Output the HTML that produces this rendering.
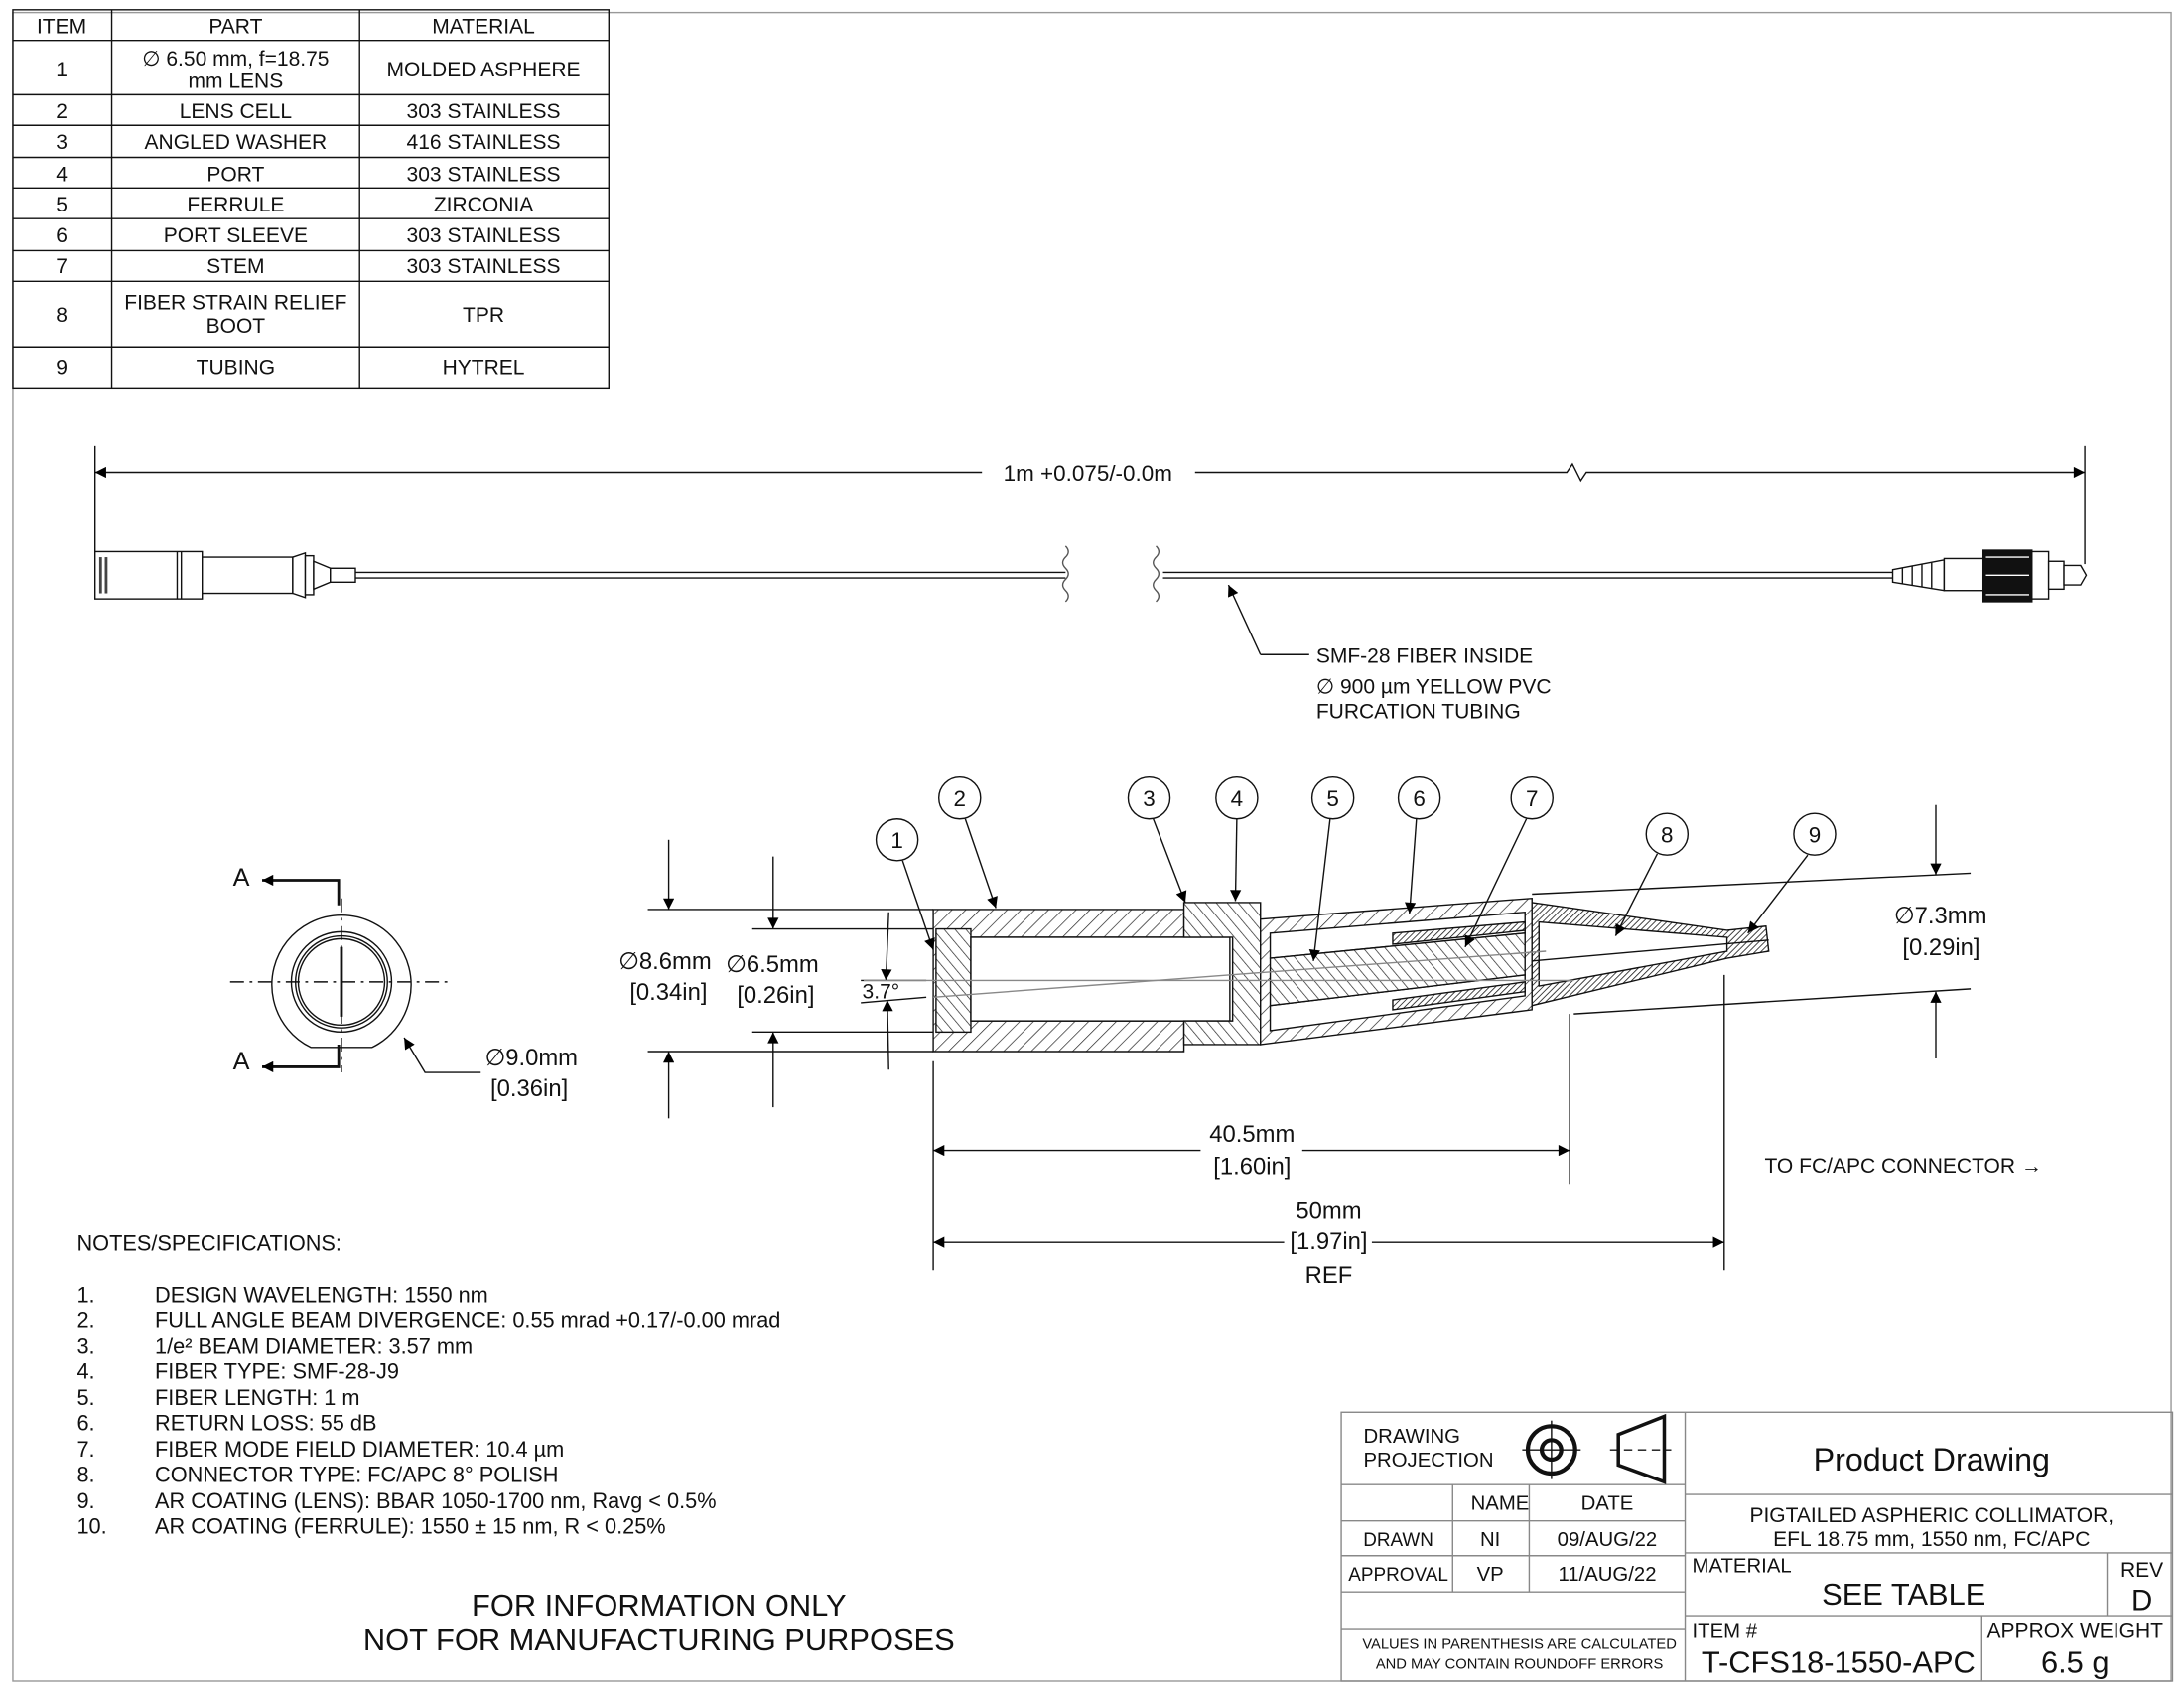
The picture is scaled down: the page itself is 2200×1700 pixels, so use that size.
<!DOCTYPE html>
<html><head><meta charset="utf-8"><style>
html,body{margin:0;padding:0;background:#fff;}
svg{display:block;}
text{font-family:"Liberation Sans",sans-serif;fill:#111;}
</style></head><body>
<svg width="2200" height="1700" viewBox="0 0 1568 1212" xmlns="http://www.w3.org/2000/svg">
<defs>
<pattern id="h" width="7" height="7" patternUnits="userSpaceOnUse" patternTransform="rotate(45)"><rect width="7" height="7" fill="#fff"/><line x1="0" y1="0" x2="0" y2="7" stroke="#222" stroke-width="1"/></pattern>
<pattern id="h2" width="6" height="6" patternUnits="userSpaceOnUse" patternTransform="rotate(-40)"><rect width="6" height="6" fill="#fff"/><line x1="0" y1="0" x2="0" y2="6" stroke="#222" stroke-width="1"/></pattern>
<pattern id="hd" width="3" height="3" patternUnits="userSpaceOnUse" patternTransform="rotate(45)"><rect width="3" height="3" fill="#fff"/><line x1="0" y1="0" x2="0" y2="3" stroke="#222" stroke-width="1.2"/></pattern>
<marker id="al" viewBox="0 0 10 10" refX="10" refY="5" markerWidth="22" markerHeight="8" orient="auto-start-reverse" markerUnits="userSpaceOnUse"><path d="M0,0 L10,5 L0,10 Z" fill="#000"/></marker>
</defs>

<rect x="9" y="9" width="1550" height="1198" fill="none" stroke="#999" stroke-width="1"/>

<g stroke="#111" stroke-width="1" fill="none">
<rect x="9" y="7" width="428" height="272"/>
<line x1="80" y1="7" x2="80" y2="279"/><line x1="258" y1="7" x2="258" y2="279"/>
<line x1="9" y1="29" x2="437" y2="29"/><line x1="9" y1="68" x2="437" y2="68"/><line x1="9" y1="90" x2="437" y2="90"/><line x1="9" y1="113" x2="437" y2="113"/><line x1="9" y1="135" x2="437" y2="135"/><line x1="9" y1="157" x2="437" y2="157"/><line x1="9" y1="180" x2="437" y2="180"/><line x1="9" y1="202" x2="437" y2="202"/><line x1="9" y1="249" x2="437" y2="249"/>
</g>
<g font-size="15" text-anchor="middle">
<text x="44" y="24">ITEM</text><text x="169" y="24">PART</text><text x="347" y="24">MATERIAL</text>
<text x="44" y="55">1</text><text x="169" y="47">∅ 6.50 mm, f=18.75</text><text x="169" y="63">mm LENS</text><text x="347" y="55">MOLDED ASPHERE</text>
<text x="44" y="85">2</text><text x="169" y="85">LENS CELL</text><text x="347" y="85">303 STAINLESS</text>
<text x="44" y="107">3</text><text x="169" y="107">ANGLED WASHER</text><text x="347" y="107">416 STAINLESS</text>
<text x="44" y="130">4</text><text x="169" y="130">PORT</text><text x="347" y="130">303 STAINLESS</text>
<text x="44" y="152">5</text><text x="169" y="152">FERRULE</text><text x="347" y="152">ZIRCONIA</text>
<text x="44" y="174">6</text><text x="169" y="174">PORT SLEEVE</text><text x="347" y="174">303 STAINLESS</text>
<text x="44" y="196">7</text><text x="169" y="196">STEM</text><text x="347" y="196">303 STAINLESS</text>
<text x="44" y="231">8</text><text x="169" y="222">FIBER STRAIN RELIEF</text><text x="169" y="239">BOOT</text><text x="347" y="231">TPR</text>
<text x="44" y="269">9</text><text x="169" y="269">TUBING</text><text x="347" y="269">HYTREL</text>
</g>

<g stroke="#111" stroke-width="1" fill="none">
<line x1="68" y1="320" x2="68" y2="400"/><line x1="1497" y1="320" x2="1497" y2="405"/>
<line x1="68" y1="339" x2="705" y2="339" marker-start="url(#al)"/>
<polyline points="858,339 1125,339 1129,333 1135,345 1139,339 1497,339" marker-end="url(#al)"/>
</g>
<text x="781" y="345" font-size="16" text-anchor="middle">1m +0.075/-0.0m</text>

<g stroke="#111" stroke-width="1" fill="#fff">
<rect x="68" y="396" width="77" height="34"/>
<line x1="127" y1="396" x2="127" y2="430"/><line x1="130" y1="396" x2="130" y2="430"/>
<rect x="145" y="400" width="65" height="26"/>
<polygon points="210,400 219,397 219,429 210,426"/>
<rect x="219" y="399" width="6" height="28"/>
<polygon points="225,403 237,408 237,418 225,423"/>
<rect x="237" y="408" width="18" height="10"/>
<line x1="255" y1="411" x2="765" y2="411"/><line x1="255" y1="415" x2="765" y2="415"/>
<line x1="835" y1="411" x2="1360" y2="411"/><line x1="835" y1="415" x2="1360" y2="415"/>
<polygon points="1359,409 1396,402 1396,424 1359,418"/>
<line x1="1366" y1="408" x2="1366" y2="419"/><line x1="1373" y1="406" x2="1373" y2="420"/><line x1="1380" y1="405" x2="1380" y2="421"/><line x1="1387" y1="404" x2="1387" y2="422"/>
<rect x="1396" y="401" width="28" height="23"/>
<rect x="1424" y="395" width="35" height="37" fill="#111"/>
<line x1="1426" y1="400" x2="1457" y2="400" stroke="#fff"/><line x1="1426" y1="427" x2="1457" y2="427" stroke="#fff"/><line x1="1426" y1="413" x2="1457" y2="413" stroke="#fff"/>
<rect x="1459" y="396" width="12" height="34"/>
<rect x="1471" y="403" width="11" height="20"/>
<path d="M1482,406 L1494,406 L1498,413 L1494,420 L1482,420 Z"/>
</g>
<rect x="71" y="400" width="2" height="26" fill="#444"/><rect x="75" y="400" width="2" height="26" fill="#444"/>
<g fill="none" stroke="#555" stroke-width="1">
<path d="M765,392 q4,4 0,8 q-4,4 0,8 q4,4 0,8 q-4,4 0,8 q4,4 0,8"/>
<path d="M830,392 q4,4 0,8 q-4,4 0,8 q4,4 0,8 q-4,4 0,8 q4,4 0,8"/>
</g>
<g stroke="#111" stroke-width="1" fill="none">
<polyline points="905,470 940,470" /><line x1="905" y1="470" x2="882" y2="420" marker-end="url(#al)"/>
</g>
<g font-size="15"><text x="945" y="476">SMF-28 FIBER INSIDE</text><text x="945" y="498">∅ 900 µm YELLOW PVC</text><text x="945" y="516">FURCATION TUBING</text></g>

<g stroke="#111" stroke-width="1" fill="none">
<path d="M223,752 A50,50 0 1 1 267,752 Z"/>
<circle cx="245" cy="705" r="36"/><circle cx="245" cy="705" r="33"/><circle cx="245" cy="705" r="31"/>
<line x1="165" y1="705" x2="325" y2="705" stroke-dasharray="10,4,2,4"/>
<line x1="245" y1="645" x2="245" y2="770" stroke-dasharray="10,4,2,4"/>
<line x1="245" y1="680" x2="245" y2="730" stroke-width="2"/>
<polyline points="243,650 243,632 188,632" stroke-width="2" marker-end="url(#al)"/>
<polyline points="243,750 243,766 188,766" stroke-width="2" marker-end="url(#al)"/>
<polyline points="345,770 305,770 290,745" marker-end="url(#al)"/>
</g>
<g font-size="18"><text x="167" y="636">A</text><text x="167" y="768">A</text></g>
<text x="348" y="765" font-size="17">∅9.0mm</text><text x="352" y="787" font-size="17">[0.36in]</text>

<g stroke="#111" stroke-width="1" fill="none">
<line x1="465" y1="653" x2="670" y2="653"/><line x1="465" y1="755" x2="670" y2="755"/>
<line x1="540" y1="667" x2="670" y2="667"/><line x1="540" y1="741" x2="670" y2="741"/>
<line x1="480" y1="603" x2="480" y2="653" marker-end="url(#al)"/>
<line x1="480" y1="803" x2="480" y2="755" marker-end="url(#al)"/>
<line x1="555" y1="615" x2="555" y2="667" marker-end="url(#al)"/>
<line x1="555" y1="795" x2="555" y2="741" marker-end="url(#al)"/>
<line x1="618" y1="720" x2="665" y2="716"/>
<line x1="618" y1="704" x2="665" y2="704"/>
<line x1="638" y1="655" x2="636" y2="704" marker-end="url(#al)"/>
<line x1="638" y1="768" x2="637" y2="718" marker-end="url(#al)"/>
</g>
<text x="444" y="696" font-size="17">∅8.6mm</text><text x="452" y="718" font-size="17">[0.34in]</text>
<text x="521" y="698" font-size="17">∅6.5mm</text><text x="529" y="720" font-size="17">[0.26in]</text>
<text x="619" y="717" font-size="15">3.7°</text>

<g stroke="#111" stroke-width="1">
<path d="M670,653 H850 V673 H697 V733 H850 V755 H670 Z" fill="url(#h)"/>
<rect x="672" y="667" width="25" height="74" fill="url(#h2)"/>
<rect x="697" y="673" width="186" height="60" fill="#fff"/>
<path d="M850,648 H905 V750 H850 V733 H885 V673 H850 Z" fill="url(#h2)"/>
<path d="M905,660 L1100,645 L1100,725 L905,750 Z" fill="url(#h)"/>
<path d="M912,670 L1095,655 L1095,670 L912,688 Z" fill="#fff"/>
<path d="M912,722 L1095,700 L1095,715 L912,740 Z" fill="#fff"/>
<path d="M912,688 L1095,670 L1095,700 L912,722 Z" fill="url(#h2)"/>
<path d="M1000,670 L1095,662 L1095,668 L1000,678 Z" fill="url(#hd)"/>
<path d="M1000,718 L1095,705 L1095,712 L1000,725 Z" fill="url(#hd)"/>
<path d="M1100,648 L1240,668 L1268,665 L1270,683 L1240,688 L1100,722 Z" fill="url(#hd)"/>
<path d="M1105,662 L1240,673 L1240,683 L1105,708 Z" fill="#fff"/>
<line x1="1100" y1="690" x2="1270" y2="675"/>
</g>
<g stroke="#888" stroke-width="1">
<line x1="620" y1="704" x2="1130" y2="704"/>
<line x1="670" y1="716" x2="1110" y2="683"/>
</g>
<g stroke="#111" stroke-width="1" fill="none">
<line x1="1100" y1="642" x2="1415" y2="627"/>
<line x1="1130" y1="728" x2="1415" y2="710"/>
<line x1="1390" y1="578" x2="1390" y2="628" marker-end="url(#al)"/>
<line x1="1390" y1="760" x2="1390" y2="712" marker-end="url(#al)"/>
<line x1="670" y1="762" x2="670" y2="912"/><line x1="1127" y1="728" x2="1127" y2="850"/><line x1="1238" y1="700" x2="1238" y2="912"/>
<line x1="670" y1="826" x2="862" y2="826" marker-start="url(#al)"/><line x1="935" y1="826" x2="1127" y2="826" marker-end="url(#al)"/>
<line x1="670" y1="892" x2="922" y2="892" marker-start="url(#al)"/><line x1="985" y1="892" x2="1238" y2="892" marker-end="url(#al)"/>
</g>
<text x="1360" y="663" font-size="17">∅7.3mm</text><text x="1366" y="686" font-size="17">[0.29in]</text>
<g font-size="17" text-anchor="middle"><text x="899" y="820">40.5mm</text><text x="899" y="843">[1.60in]</text>
<text x="954" y="875">50mm</text><text x="954" y="897">[1.97in]</text><text x="954" y="921">REF</text></g>
<text x="1267" y="842" font-size="15">TO FC/APC CONNECTOR →</text>

<g stroke="#111" stroke-width="1" fill="#fff">
<circle cx="644" cy="603" r="15"/><circle cx="689" cy="573" r="15"/><circle cx="825" cy="573" r="15"/><circle cx="888" cy="573" r="15"/><circle cx="957" cy="573" r="15"/><circle cx="1019" cy="573" r="15"/><circle cx="1100" cy="573" r="15"/><circle cx="1197" cy="599" r="15"/><circle cx="1303" cy="599" r="15"/>
</g>
<g stroke="#111" stroke-width="1" fill="none">
<line x1="648" y1="618" x2="670" y2="682" marker-end="url(#al)"/>
<line x1="693" y1="588" x2="715" y2="652" marker-end="url(#al)"/>
<line x1="828" y1="588" x2="851" y2="648" marker-end="url(#al)"/>
<line x1="888" y1="588" x2="887" y2="647" marker-end="url(#al)"/>
<line x1="955" y1="588" x2="943" y2="690" marker-end="url(#al)"/>
<line x1="1017" y1="588" x2="1012" y2="656" marker-end="url(#al)"/>
<line x1="1096" y1="588" x2="1052" y2="680" marker-end="url(#al)"/>
<line x1="1190" y1="613" x2="1160" y2="672" marker-end="url(#al)"/>
<line x1="1298" y1="614" x2="1255" y2="670" marker-end="url(#al)"/>
</g>
<g font-size="16" text-anchor="middle">
<text x="644" y="609">1</text><text x="689" y="579">2</text><text x="825" y="579">3</text><text x="888" y="579">4</text><text x="957" y="579">5</text><text x="1019" y="579">6</text><text x="1100" y="579">7</text><text x="1197" y="605">8</text><text x="1303" y="605">9</text>
</g>

<g font-size="15.5">
<text x="55" y="898">NOTES/SPECIFICATIONS:</text>
<text x="55" y="935">1.</text><text x="111" y="935">DESIGN WAVELENGTH: 1550 nm</text>
<text x="55" y="953">2.</text><text x="111" y="953">FULL ANGLE BEAM DIVERGENCE: 0.55 mrad +0.17/-0.00 mrad</text>
<text x="55" y="972">3.</text><text x="111" y="972">1/e² BEAM DIAMETER: 3.57 mm</text>
<text x="55" y="990">4.</text><text x="111" y="990">FIBER TYPE: SMF-28-J9</text>
<text x="55" y="1009">5.</text><text x="111" y="1009">FIBER LENGTH: 1 m</text>
<text x="55" y="1027">6.</text><text x="111" y="1027">RETURN LOSS: 55 dB</text>
<text x="55" y="1046">7.</text><text x="111" y="1046">FIBER MODE FIELD DIAMETER: 10.4 µm</text>
<text x="55" y="1064">8.</text><text x="111" y="1064">CONNECTOR TYPE: FC/APC 8° POLISH</text>
<text x="55" y="1083">9.</text><text x="111" y="1083">AR COATING (LENS): BBAR 1050-1700 nm, Ravg &lt; 0.5%</text>
<text x="55" y="1101">10.</text><text x="111" y="1101">AR COATING (FERRULE): 1550 ± 15 nm, R &lt; 0.25%</text>
</g>
<g font-size="22" text-anchor="middle"><text x="473" y="1160">FOR INFORMATION ONLY</text><text x="473" y="1185">NOT FOR MANUFACTURING PURPOSES</text></g>

<g stroke="#888" stroke-width="1" fill="none">
<rect x="963" y="1014" width="597" height="193"/>
<line x1="1210" y1="1014" x2="1210" y2="1207"/>
<line x1="963" y1="1066" x2="1210" y2="1066"/><line x1="963" y1="1092" x2="1210" y2="1092"/><line x1="963" y1="1117" x2="1210" y2="1117"/><line x1="963" y1="1143" x2="1210" y2="1143"/><line x1="963" y1="1170" x2="1210" y2="1170"/>
<line x1="1043" y1="1066" x2="1043" y2="1143"/><line x1="1098" y1="1066" x2="1098" y2="1143"/>
<line x1="1210" y1="1073" x2="1560" y2="1073"/><line x1="1210" y1="1115" x2="1560" y2="1115"/><line x1="1210" y1="1160" x2="1560" y2="1160"/>
<line x1="1513" y1="1115" x2="1513" y2="1160"/><line x1="1423" y1="1160" x2="1423" y2="1207"/>
</g>
<g stroke="#111" fill="none">
<circle cx="1114" cy="1041" r="17" stroke-width="3"/><circle cx="1114" cy="1041" r="7" stroke-width="3"/>
<line x1="1093" y1="1041" x2="1135" y2="1041"/><line x1="1114" y1="1020" x2="1114" y2="1062"/>
<path d="M1162,1030 L1195,1017 L1195,1064 L1162,1052 Z" stroke-width="2.5"/>
<line x1="1156" y1="1041" x2="1200" y2="1041" stroke-dasharray="6,4"/>
</g>
<g font-size="14.5"><text x="979" y="1036">DRAWING</text><text x="979" y="1053">PROJECTION</text></g>
<g font-size="14.5" text-anchor="middle">
<text x="1077" y="1084">NAME</text><text x="1154" y="1084">DATE</text>
<text x="1004" y="1110" font-size="13.5">DRAWN</text><text x="1070" y="1110">NI</text><text x="1154" y="1110">09/AUG/22</text>
<text x="1004" y="1135" font-size="13.5">APPROVAL</text><text x="1070" y="1135">VP</text><text x="1154" y="1135">11/AUG/22</text>
<text x="1091" y="1184" font-size="10.5">VALUES IN PARENTHESIS ARE CALCULATED</text>
<text x="1091" y="1198" font-size="10.5">AND MAY CONTAIN ROUNDOFF ERRORS</text>
<text x="1387" y="1056" font-size="23">Product Drawing</text>
<text x="1387" y="1093" font-size="15">PIGTAILED ASPHERIC COLLIMATOR,</text>
<text x="1387" y="1110" font-size="15">EFL 18.75 mm, 1550 nm, FC/APC</text>
<text x="1367" y="1152" font-size="22">SEE TABLE</text>
<text x="1538" y="1132" font-size="15">REV</text><text x="1538" y="1156" font-size="21">D</text>
<text x="1320" y="1201" font-size="22">T-CFS18-1550-APC</text>
<text x="1490" y="1176" font-size="15">APPROX WEIGHT</text><text x="1490" y="1201" font-size="22">6.5 g</text>
</g>
<text x="1215" y="1129" font-size="14.5">MATERIAL</text><text x="1215" y="1176" font-size="14.5">ITEM #</text>
</svg>
</body></html>
